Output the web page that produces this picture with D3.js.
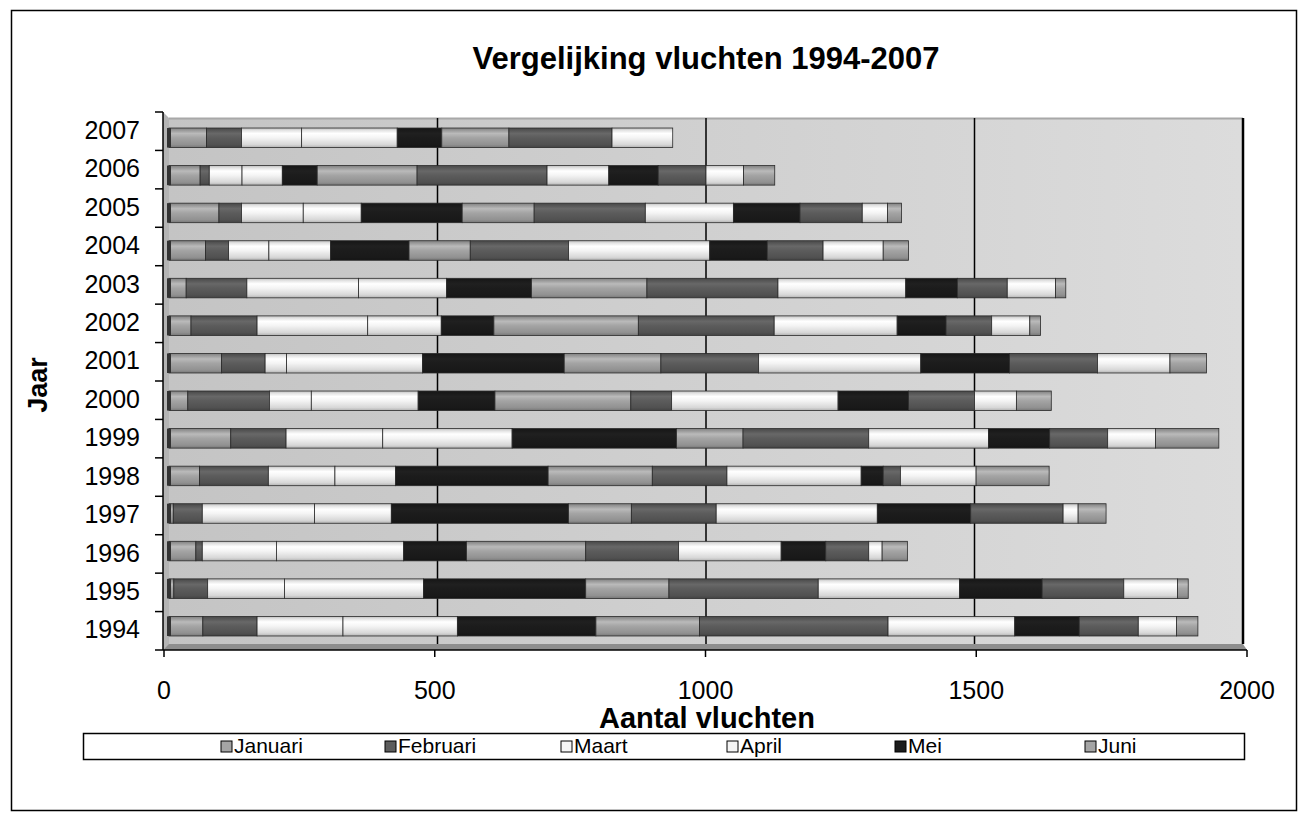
<!DOCTYPE html>
<head>
  <meta charset="utf-8">
  <script src="https://d3js.org/d3.v7.min.js"></script>
  <style>
    body { margin: 0; background: #fff; }
    text { font-family: "Liberation Sans", Arial, sans-serif; fill: #000; }
  </style>
</head>
<body>

<div id="my_dataviz"></div>

<script>

  // years on the vertical axis (bottom to top)
  var years = ["1994","1995","1996","1997","1998","1999","2000","2001","2002","2003","2004","2005","2006","2007"];

  // flights per month, one value per year (1994 .. 2007)
  var januari   = [63, 9, 50, 8, 57, 115, 35, 98, 41, 32, 68, 93, 58, 70];
  var februari  = [101, 63, 12, 54, 128, 103, 152, 81, 123, 113, 43, 42, 17, 65];
  var maart     = [160, 143, 138, 209, 124, 180, 78, 40, 206, 208, 75, 115, 61, 112];
  var april     = [213, 259, 237, 143, 113, 241, 199, 253, 137, 164, 115, 108, 75, 178];
  var mei       = [258, 302, 117, 330, 284, 306, 143, 264, 98, 158, 146, 188, 65, 83];
  var juni      = [193, 155, 222, 117, 194, 124, 253, 180, 269, 215, 114, 134, 186, 125];
  var juli      = [351, 278, 173, 158, 139, 234, 76, 182, 253, 244, 183, 207, 242, 192];
  var augustus  = [236, 263, 191, 300, 250, 223, 310, 302, 229, 238, 263, 164, 115, 113];
  var september = [120, 154, 83, 174, 41, 114, 131, 165, 91, 96, 107, 124, 92, 0];
  var oktober   = [110, 152, 80, 172, 32, 108, 123, 164, 85, 93, 104, 116, 89, 0];
  var november  = [71, 100, 25, 28, 141, 89, 78, 135, 71, 90, 112, 47, 70, 0];
  var december  = [40, 20, 47, 52, 136, 118, 65, 68, 20, 19, 47, 26, 58, 0];

  var months = ["Januari","Februari","Maart","April","Mei","Juni","Juli","Augustus","September","Oktober","November","December"];
  var monthValues = [januari, februari, maart, april, mei, juni, juli, augustus, september, oktober, november, december];

  // only the first six months show up in the legend
  var legendMonths = months.slice(0, 6);

  var xTicks = [0, 500, 1000, 1500, 2000];

  // grey shades, cycling like the original sheet
  var monthColors = ["#a4a4a4","#5c5c5c","#f4f4f4","#f4f4f4","#1c1c1c","#a4a4a4",
                     "#5c5c5c","#f4f4f4","#1c1c1c","#5c5c5c","#f4f4f4","#a4a4a4"];

  // table for d3.stack
  var table = years.map(function(y, i) {
    var row = {year: y};
    months.forEach(function(m, j) { row[m] = monthValues[j][i]; });
    return row;
  });

  var W = 1310, H = 823;

  var svg = d3.select("#my_dataviz")
    .append("svg")
      .attr("width", W)
      .attr("height", H);

  svg.append("rect")
    .attr("x", 11.5).attr("y", 10.5)
    .attr("width", 1285).attr("height", 800)
    .attr("fill", "#fff").attr("stroke", "#000").attr("stroke-width", 1.5);

  // gradients
  var defs = svg.append("defs");
  var wall = defs.append("linearGradient").attr("id", "wall")
    .attr("x1", 0).attr("x2", 1).attr("y1", 0).attr("y2", 0);
  wall.append("stop").attr("offset", "0%").attr("stop-color", "#c4c4c4");
  wall.append("stop").attr("offset", "100%").attr("stop-color", "#dcdcdc");

  var uniqueColors = Array.from(new Set(monthColors));
  uniqueColors.forEach(function(c, i) {
    var g = defs.append("linearGradient").attr("id", "seg" + i)
      .attr("x1", 0).attr("x2", 0).attr("y1", 0).attr("y2", 1);
    var base = d3.color(c);
    var light = c === "#f4f4f4" ? "#ffffff" : base.brighter(0.35).formatHex();
    g.append("stop").attr("offset", "0%").attr("stop-color", base.darker(0.7).formatHex());
    g.append("stop").attr("offset", "12%").attr("stop-color", base.darker(0.2).formatHex());
    g.append("stop").attr("offset", "28%").attr("stop-color", light);
    g.append("stop").attr("offset", "50%").attr("stop-color", c);
    g.append("stop").attr("offset", "85%").attr("stop-color", base.darker(0.35).formatHex());
    g.append("stop").attr("offset", "100%").attr("stop-color", base.darker(0.9).formatHex());
  });
  function fillFor(j) { return "url(#seg" + uniqueColors.indexOf(monthColors[j]) + ")"; }

  // scales
  var x = d3.scaleLinear().domain([0, 2000]).range([169, 1243]);
  var xFront = d3.scaleLinear().domain([0, 2000]).range([164, 1247]);
  var y = d3.scaleBand().domain(years.slice().reverse()).range([119, 645]).paddingInner(0.48).paddingOuter(0.24);
  var yFront = d3.scaleBand().domain(years.slice().reverse()).range([112, 650]);

  // back wall, left wall, floor
  svg.append("rect")
    .attr("x", x(0)).attr("y", 118)
    .attr("width", x(2000) - x(0)).attr("height", 645 - 118)
    .attr("fill", "url(#wall)");
  svg.append("line")
    .attr("x1", x(0)).attr("x2", x(2000)).attr("y1", 118.5).attr("y2", 118.5)
    .attr("stroke", "#a8a8a8").attr("stroke-width", 2);
  svg.append("polygon")
    .attr("points", [[163,112],[169,118],[169,645],[163,650]].join(" "))
    .attr("fill", "#b4b4b4");
  svg.append("polygon")
    .attr("points", [[163,650],[169,644],[1243,644],[1247,650]].join(" "))
    .attr("fill", "#8e8e8e");

  // vertical gridlines
  svg.selectAll(".grid")
    .data(xTicks.slice(1))
    .enter().append("line")
      .attr("x1", function(d) { return x(d); })
      .attr("x2", function(d) { return x(d); })
      .attr("y1", 118).attr("y2", 644)
      .attr("stroke", "#000").attr("stroke-width", function(d) { return d === 2000 ? 2.5 : 1.5; });

  // stacked bars
  var series = d3.stack().keys(months)(table);

  var groups = svg.append("g").selectAll("g")
    .data(series)
    .enter().append("g")
      .attr("fill", function(d, j) { return fillFor(j); });

  groups.selectAll("rect")
    .data(function(d) { return d.filter(function(s) { return s[1] > s[0]; }); })
    .enter().append("rect")
      .attr("x", function(d) { return x(d[0]); })
      .attr("y", function(d) { return y(d.data.year); })
      .attr("width", function(d) { return x(d[1]) - x(d[0]); })
      .attr("height", y.bandwidth())
      .attr("stroke", "#2a2a2a")
      .attr("stroke-width", 0.8);

  // left cap of each bar
  svg.append("g").selectAll("rect")
    .data(table)
    .enter().append("rect")
      .attr("x", x(0) - 2)
      .attr("y", function(d) { return y(d.year); })
      .attr("width", 4)
      .attr("height", y.bandwidth())
      .attr("fill", "#333");

  // y axis
  var yAxis = svg.append("g");
  yAxis.append("line")
    .attr("x1", 163).attr("x2", 163).attr("y1", 112).attr("y2", 650)
    .attr("stroke", "#000").attr("stroke-width", 1.5);
  yAxis.selectAll(".ytick")
    .data(years.slice().reverse())
    .enter().append("line")
      .attr("x1", 155).attr("x2", 163)
      .attr("y1", function(d) { return yFront(d); })
      .attr("y2", function(d) { return yFront(d); })
      .attr("stroke", "#000").attr("stroke-width", 1.5);
  yAxis.append("line")
    .attr("x1", 155).attr("x2", 163).attr("y1", 650).attr("y2", 650)
    .attr("stroke", "#000").attr("stroke-width", 1.5);
  yAxis.selectAll(".ylab")
    .data(years)
    .enter().append("text")
      .attr("x", 140)
      .attr("y", function(d) { return yFront(d) + yFront.bandwidth() / 2 + 1; })
      .attr("text-anchor", "end")
      .attr("dominant-baseline", "middle")
      .style("font-size", "25px")
      .text(function(d) { return d; });

  // x axis
  var xAxis = svg.append("g");
  xAxis.append("line")
    .attr("x1", 163).attr("x2", 1247).attr("y1", 650).attr("y2", 650)
    .attr("stroke", "#000").attr("stroke-width", 1.5);
  xAxis.selectAll(".xtick")
    .data(xTicks)
    .enter().append("line")
      .attr("x1", function(d) { return xFront(d); })
      .attr("x2", function(d) { return xFront(d); })
      .attr("y1", 650).attr("y2", 657)
      .attr("stroke", "#000").attr("stroke-width", 1.5);
  xAxis.selectAll(".xlab")
    .data(xTicks)
    .enter().append("text")
      .attr("x", function(d) { return xFront(d); })
      .attr("y", 699)
      .attr("text-anchor", "middle")
      .style("font-size", "25px")
      .text(function(d) { return d; });

  // titles
  svg.append("text")
    .attr("x", 706).attr("y", 69)
    .attr("text-anchor", "middle")
    .style("font-size", "31px").style("font-weight", "bold")
    .text("Vergelijking vluchten 1994-2007");

  svg.append("text")
    .attr("x", 707).attr("y", 728)
    .attr("text-anchor", "middle")
    .style("font-size", "29px").style("font-weight", "bold")
    .text("Aantal vluchten");

  svg.append("text")
    .attr("transform", "translate(47,385) rotate(-90)")
    .attr("text-anchor", "middle")
    .style("font-size", "27px").style("font-weight", "bold")
    .text("Jaar");

  // legend
  var legendX = [221, 385, 561, 727, 895, 1085];
  svg.append("rect")
    .attr("x", 83.5).attr("y", 733.5)
    .attr("width", 1161).attr("height", 26)
    .attr("fill", "#fff").attr("stroke", "#000").attr("stroke-width", 1.5);
  var items = svg.selectAll(".leg")
    .data(legendMonths)
    .enter().append("g")
      .attr("transform", function(d, i) { return "translate(" + legendX[i] + ",747)"; });
  items.append("rect")
    .attr("x", 0).attr("y", -6).attr("width", 11).attr("height", 11)
    .attr("fill", function(d, i) { return monthColors[i]; })
    .attr("stroke", "#000").attr("stroke-width", 1);
  items.append("text")
    .attr("x", 13).attr("y", 0)
    .attr("dominant-baseline", "middle")
    .style("font-size", "21px")
    .text(function(d) { return d; });

</script>

</body>
